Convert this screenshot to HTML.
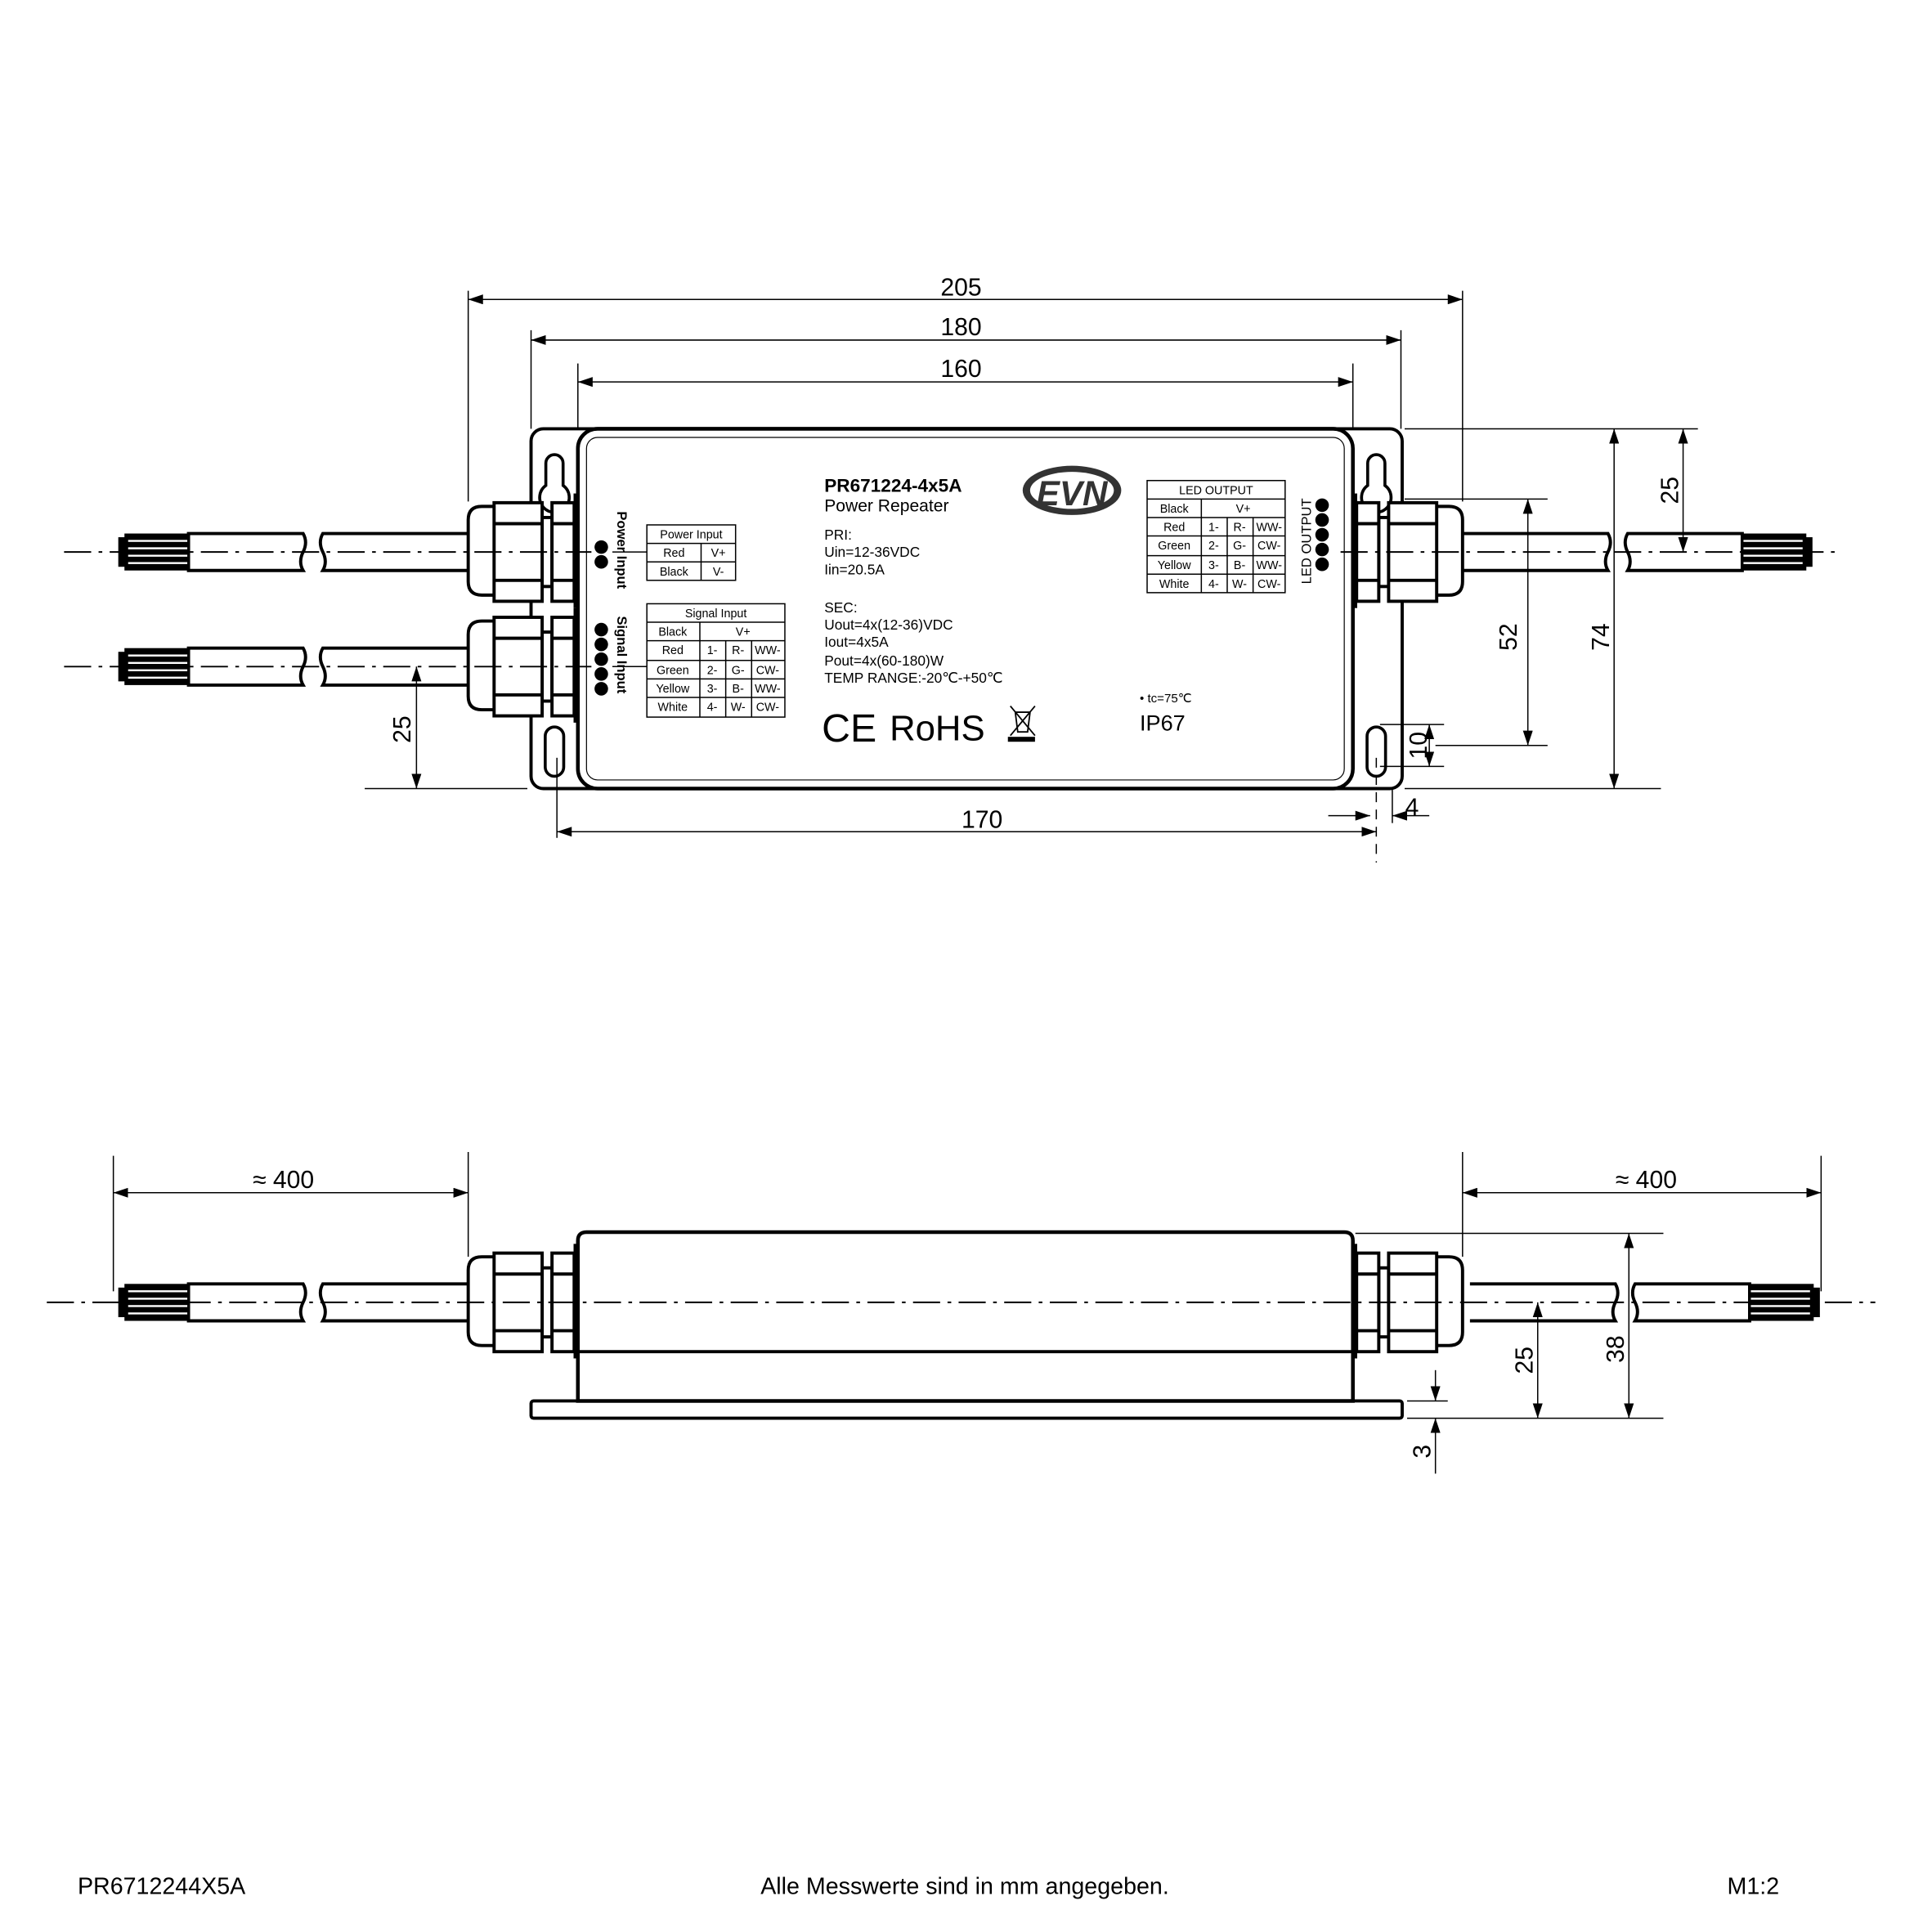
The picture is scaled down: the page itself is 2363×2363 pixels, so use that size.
<!DOCTYPE html>
<html><head><meta charset="utf-8"><style>
html,body{margin:0;padding:0;background:#fff}
svg{display:block}
text{font-family:"Liberation Sans",Arial,sans-serif;fill:#000}
</style></head><body>
<svg width="2363" height="2363" viewBox="0 0 1568 1568" xmlns="http://www.w3.org/2000/svg">
<defs>
<marker id="a" viewBox="0 0 12 8" refX="12" refY="4" markerWidth="12" markerHeight="8" markerUnits="userSpaceOnUse" orient="auto-start-reverse"><path d="M0 0L12 4L0 8z" fill="#000"/></marker>
<g id="gl" stroke="#000" stroke-width="2.6" fill="#fff">
<path d="M402 -37H391Q380 -37 380 -26V24Q380 35 391 35H402"/>
<rect x="440" y="-28" width="8" height="56"/>
<rect x="401" y="-40" width="39" height="80"/>
<line x1="401" y1="-23" x2="440" y2="-23"/><line x1="401" y1="23" x2="440" y2="23"/>
<rect x="448" y="-40" width="18" height="80"/>
<line x1="448" y1="-23" x2="466" y2="-23"/><line x1="448" y1="23" x2="466" y2="23"/>
<rect x="466" y="-47" width="3" height="92" fill="#000" stroke-width="1"/>
</g>
<g id="cb" stroke="#000" stroke-width="2.6" fill="#fff">
<path d="M153 -15H246q4 7 0 15q-4 8 0 15H153Z"/>
<path d="M380 -15H262q-4 7 0 15q4 8 0 15H380"/>
<rect x="101" y="-15" width="52" height="30" fill="#000" stroke="none"/>
<rect x="96" y="-12" width="6" height="24" fill="#000" stroke="none"/>
<g stroke="#fff" stroke-width="1.6"><line x1="104" y1="-9" x2="152" y2="-9"/><line x1="104" y1="-3" x2="152" y2="-3"/><line x1="104" y1="3" x2="152" y2="3"/><line x1="104" y1="9" x2="152" y2="9"/></g>
</g>
<g id="kh" stroke="#000" stroke-width="2.4" fill="#fff">
<path d="M443 376a7 7 0 0 1 14 0V394a12 12 0 1 1 -14 0Z"/>
<rect x="442.5" y="590" width="15" height="40" rx="7.5"/>
</g>
</defs>

<!-- TOP VIEW -->
<rect x="431" y="348" width="707" height="292" rx="10" fill="#fff" stroke="#000" stroke-width="2.6"/>
<use href="#kh"/>
<use href="#kh" transform="translate(1567,0) scale(-1,1)"/>
<rect x="469" y="348" width="629" height="292" rx="16" fill="#fff" stroke="#000" stroke-width="3"/>
<rect x="476" y="355" width="615" height="278" rx="9" fill="none" stroke="#000" stroke-width="0.8"/>

<g transform="translate(0,448)"><use href="#cb"/><use href="#gl"/></g>
<g transform="translate(0,541)"><use href="#cb"/><use href="#gl"/></g>
<g transform="translate(1567,448) scale(-1,1)"><use href="#cb"/><use href="#gl"/></g>

<g stroke="#000" stroke-width="1.3" stroke-dasharray="22 6 3 6" fill="none">
<line x1="52" y1="448" x2="480" y2="448"/>
<line x1="1088" y1="448" x2="1492" y2="448"/>
<line x1="52" y1="541" x2="480" y2="541"/>
</g>

<!-- labels in body -->
<text x="669" y="399" font-size="15" font-weight="bold">PR671224-4x5A</text>
<text x="669" y="415" font-size="14">Power Repeater</text>
<g font-size="11.5">
<text x="669" y="438">PRI:</text>
<text x="669" y="452">Uin=12-36VDC</text>
<text x="669" y="466">Iin=20.5A</text>
<text x="669" y="497">SEC:</text>
<text x="669" y="511">Uout=4x(12-36)VDC</text>
<text x="669" y="525">Iout=4x5A</text>
<text x="669" y="540">Pout=4x(60-180)W</text>
<text x="669" y="554">TEMP RANGE:-20℃-+50℃</text>
</g>
<text x="667" y="602" font-size="32">CE</text>
<text x="722" y="601" font-size="29">RoHS</text>
<g stroke="#000" stroke-width="1.2" fill="none"><path d="M820 573L840 597M840 573L820 597M824 578h12l-2 16h-8z"/></g>
<rect x="818" y="598" width="22" height="4" fill="#000"/>
<ellipse cx="870" cy="398" rx="40" ry="20" fill="#333"/>
<ellipse cx="870" cy="398" rx="34" ry="15" fill="#fff"/>
<text x="870" y="410" font-size="28" font-weight="bold" font-style="italic" text-anchor="middle" style="fill:#333">EVN</text>
<text x="925" y="570" font-size="10">• tc=75℃</text>
<text x="925" y="593" font-size="18">IP67</text>

<!-- tables -->
<g stroke="#000" stroke-width="1" fill="none">
<rect x="525" y="426" width="72" height="45"/>
<line x1="525" y1="441" x2="597" y2="441"/><line x1="525" y1="456" x2="597" y2="456"/>
<line x1="569" y1="441" x2="569" y2="471"/>
<line x1="497" y1="448" x2="525" y2="448"/>
<rect x="525" y="490" width="112" height="92"/>
<line x1="525" y1="505" x2="637" y2="505"/><line x1="525" y1="520" x2="637" y2="520"/><line x1="525" y1="536" x2="637" y2="536"/><line x1="525" y1="551" x2="637" y2="551"/><line x1="525" y1="566" x2="637" y2="566"/>
<line x1="568" y1="505" x2="568" y2="582"/><line x1="589" y1="520" x2="589" y2="582"/><line x1="610" y1="520" x2="610" y2="582"/>
<line x1="497" y1="541" x2="525" y2="541"/>
<rect x="931" y="390" width="112" height="91"/>
<line x1="931" y1="405" x2="1043" y2="405"/><line x1="931" y1="420" x2="1043" y2="420"/><line x1="931" y1="435" x2="1043" y2="435"/><line x1="931" y1="451" x2="1043" y2="451"/><line x1="931" y1="466" x2="1043" y2="466"/>
<line x1="975" y1="405" x2="975" y2="481"/><line x1="996" y1="420" x2="996" y2="481"/><line x1="1017" y1="420" x2="1017" y2="481"/>
</g>
<g font-size="9.5" text-anchor="middle">
<text x="561" y="437">Power Input</text>
<text x="547" y="452">Red</text><text x="583" y="452">V+</text>
<text x="547" y="467">Black</text><text x="583" y="467">V-</text>
<text x="581" y="501">Signal Input</text>
<text x="546" y="516">Black</text><text x="603" y="516">V+</text>
<text x="546" y="531">Red</text><text x="578" y="531">1-</text><text x="599" y="531">R-</text><text x="623" y="531">WW-</text>
<text x="546" y="547">Green</text><text x="578" y="547">2-</text><text x="599" y="547">G-</text><text x="623" y="547">CW-</text>
<text x="546" y="562">Yellow</text><text x="578" y="562">3-</text><text x="599" y="562">B-</text><text x="623" y="562">WW-</text>
<text x="546" y="577">White</text><text x="578" y="577">4-</text><text x="599" y="577">W-</text><text x="623" y="577">CW-</text>
<text x="987" y="401">LED OUTPUT</text>
<text x="953" y="416">Black</text><text x="1009" y="416">V+</text>
<text x="953" y="431">Red</text><text x="985" y="431">1-</text><text x="1006" y="431">R-</text><text x="1030" y="431">WW-</text>
<text x="953" y="446">Green</text><text x="985" y="446">2-</text><text x="1006" y="446">G-</text><text x="1030" y="446">CW-</text>
<text x="953" y="462">Yellow</text><text x="985" y="462">3-</text><text x="1006" y="462">B-</text><text x="1030" y="462">WW-</text>
<text x="953" y="477">White</text><text x="985" y="477">4-</text><text x="1006" y="477">W-</text><text x="1030" y="477">CW-</text>
</g>
<g fill="#000">
<circle cx="488" cy="444" r="5.5"/><circle cx="488" cy="456" r="5.5"/>
<circle cx="488" cy="511" r="5.5"/><circle cx="488" cy="523" r="5.5"/><circle cx="488" cy="535" r="5.5"/><circle cx="488" cy="547" r="5.5"/><circle cx="488" cy="559" r="5.5"/>
<circle cx="1073" cy="410" r="5.5"/><circle cx="1073" cy="422" r="5.5"/><circle cx="1073" cy="434" r="5.5"/><circle cx="1073" cy="446" r="5.5"/><circle cx="1073" cy="458" r="5.5"/>
</g>
<text transform="translate(501,415) rotate(90)" font-size="11" font-weight="bold">Power Input</text>
<text transform="translate(501,500) rotate(90)" font-size="11" font-weight="bold">Signal Input</text>
<text transform="translate(1064,474) rotate(-90)" font-size="11">LED OUTPUT</text>

<!-- top dims -->
<g stroke="#000" stroke-width="1" fill="none">
<line x1="380" y1="236" x2="380" y2="407"/><line x1="1187" y1="236" x2="1187" y2="407"/>
<line x1="431" y1="268" x2="431" y2="348"/><line x1="1137" y1="268" x2="1137" y2="348"/>
<line x1="469" y1="295" x2="469" y2="348"/><line x1="1098" y1="295" x2="1098" y2="348"/>
<line x1="380" y1="243" x2="1187" y2="243" marker-start="url(#a)" marker-end="url(#a)"/>
<line x1="431" y1="276" x2="1137" y2="276" marker-start="url(#a)" marker-end="url(#a)"/>
<line x1="469" y1="310" x2="1098" y2="310" marker-start="url(#a)" marker-end="url(#a)"/>
<line x1="452" y1="615" x2="452" y2="680"/>
<line x1="1117" y1="615" x2="1117" y2="700" stroke-dasharray="8 6"/>
<line x1="1130" y1="640" x2="1130" y2="668"/>
<line x1="452" y1="675" x2="1117" y2="675" marker-start="url(#a)" marker-end="url(#a)"/>
<line x1="1078" y1="662" x2="1112" y2="662" marker-end="url(#a)"/>
<line x1="1160" y1="662" x2="1130" y2="662" marker-end="url(#a)"/>
<line x1="1140" y1="348" x2="1378" y2="348"/>
<line x1="1140" y1="640" x2="1348" y2="640"/>
<line x1="1310" y1="348" x2="1310" y2="640" marker-start="url(#a)" marker-end="url(#a)"/>
<line x1="1366" y1="348" x2="1366" y2="448" marker-start="url(#a)" marker-end="url(#a)"/>
<line x1="1140" y1="405" x2="1256" y2="405"/>
<line x1="1165" y1="605" x2="1256" y2="605"/>
<line x1="1240" y1="405" x2="1240" y2="605" marker-start="url(#a)" marker-end="url(#a)"/>
<line x1="1120" y1="588" x2="1172" y2="588"/>
<line x1="1120" y1="622" x2="1172" y2="622"/>
<line x1="1160" y1="588" x2="1160" y2="622" marker-start="url(#a)" marker-end="url(#a)"/>
<line x1="296" y1="640" x2="428" y2="640"/>
<line x1="338" y1="541" x2="338" y2="640" marker-start="url(#a)" marker-end="url(#a)"/>
</g>
<g font-size="20" text-anchor="middle">
<text x="780" y="240">205</text>
<text x="780" y="272">180</text>
<text x="780" y="306">160</text>
<text x="797" y="672">170</text>
<text x="1146" y="662">4</text>
<text transform="translate(1362,398) rotate(-90)">25</text>
<text transform="translate(1231,517) rotate(-90)">52</text>
<text transform="translate(1306,517) rotate(-90)">74</text>
<text transform="translate(1158,605) rotate(-90)">10</text>
<text transform="translate(333,592) rotate(-90)">25</text>
</g>

<!-- BOTTOM VIEW -->
<rect x="431" y="1137" width="707" height="14" rx="2" fill="#fff" stroke="#000" stroke-width="2.6"/>
<path d="M469 1137V1007Q469 1000 476 1000H1091Q1098 1000 1098 1007V1137Z" fill="#fff" stroke="#000" stroke-width="3"/>
<line x1="469" y1="1097" x2="1098" y2="1097" stroke="#000" stroke-width="2.6"/>
<g transform="translate(0,1057)"><use href="#cb"/><use href="#gl"/></g>
<g transform="translate(1567,1057) scale(-1,1)"><use href="#gl"/></g>
<g transform="translate(1573,1057) scale(-1,1)"><use href="#cb"/></g>
<g stroke="#000" stroke-width="1.3" stroke-dasharray="22 6 3 6" fill="none">
<line x1="38" y1="1057" x2="1522" y2="1057"/>
</g>
<g stroke="#000" stroke-width="1" fill="none">
<line x1="92" y1="938" x2="92" y2="1048"/><line x1="380" y1="935" x2="380" y2="1020"/>
<line x1="1187" y1="935" x2="1187" y2="1020"/><line x1="1478" y1="938" x2="1478" y2="1048"/>
<line x1="92" y1="968" x2="380" y2="968" marker-start="url(#a)" marker-end="url(#a)"/>
<line x1="1187" y1="968" x2="1478" y2="968" marker-start="url(#a)" marker-end="url(#a)"/>
<line x1="1100" y1="1001" x2="1350" y2="1001"/>
<line x1="1142" y1="1151" x2="1350" y2="1151"/>
<line x1="1142" y1="1137" x2="1175" y2="1137"/>
<line x1="1322" y1="1001" x2="1322" y2="1151" marker-start="url(#a)" marker-end="url(#a)"/>
<line x1="1248" y1="1057" x2="1248" y2="1151" marker-start="url(#a)" marker-end="url(#a)"/>
<line x1="1165" y1="1112" x2="1165" y2="1137" marker-end="url(#a)"/>
<line x1="1165" y1="1196" x2="1165" y2="1151" marker-end="url(#a)"/>
</g>
<g font-size="20" text-anchor="middle">
<text x="230" y="964">≈ 400</text>
<text x="1336" y="964">≈ 400</text>
<text transform="translate(1244,1104) rotate(-90)">25</text>
<text transform="translate(1318,1095) rotate(-90)">38</text>
<text transform="translate(1161,1178) rotate(-90)">3</text>
</g>

<!-- footer -->
<g font-size="19">
<text x="63" y="1537">PR6712244X5A</text>
<text x="783" y="1537" text-anchor="middle">Alle Messwerte sind in mm angegeben.</text>
<text x="1444" y="1537" text-anchor="end">M1:2</text>
</g>
</svg>
</body></html>
